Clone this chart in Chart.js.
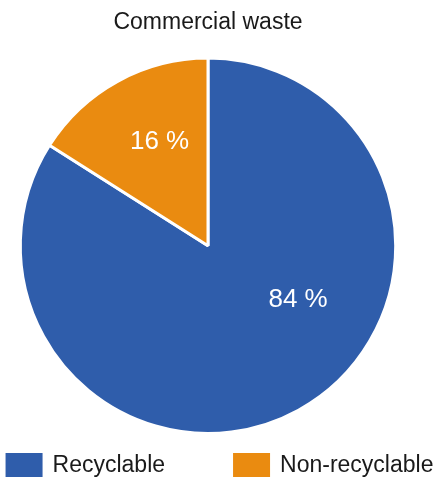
<!DOCTYPE html>
<html>
<head>
<meta charset="utf-8">
<script src="https://cdn.jsdelivr.net/npm/chart.js@4"></script>
<style>
  html, body { margin: 0; padding: 0; background: #fff; }
  #wrap { width: 439px; height: 479px; position: relative; }
</style>
</head>
<body>
<div id="wrap"><canvas id="myChart"></canvas></div>
<script>
const categories = ['Recyclable', 'Non-recyclable']
const shares = [84, 16]
const sliceColors = ['#2f5dab', '#ea8b10']

const FONT = '"Liberation Sans", Arial, sans-serif'

// percentage labels inside the slices (Excel puts the big one a bit off the middle)
const sliceLabels = {
    id: 'sliceLabels',
    afterDatasetsDraw(chart, args, opts) {
        const ctx = chart.ctx
        const meta = chart.getDatasetMeta(0)
        ctx.save()
        ctx.font = '26px ' + FONT
        ctx.fillStyle = '#ffffff'
        ctx.textAlign = 'center'
        ctx.textBaseline = 'middle'
        meta.data.forEach(function(arc, i) {
            const place = opts.place[i]
            let angle = (arc.startAngle + arc.endAngle) / 2
            if (place.angle !== null) {
                angle = place.angle * Math.PI / 180
            }
            const r = arc.outerRadius * place.r
            const x = arc.x + Math.cos(angle) * r
            const y = arc.y + Math.sin(angle) * r
            ctx.fillText(shares[i] + ' %', x, y)
        })
        ctx.restore()
    }
}

// legend drawn by hand so the two entries can sit far apart on one row
const bottomLegend = {
    id: 'bottomLegend',
    afterDraw(chart, args, opts) {
        const ctx = chart.ctx
        ctx.save()
        ctx.font = '23px ' + FONT
        ctx.textBaseline = 'middle'
        ctx.textAlign = 'left'
        const widths = categories.map(function(c) {
            return opts.boxW + opts.boxGap + ctx.measureText(c).width
        })
        const total = widths.reduce(function(a, b) { return a + b }, 0) + opts.itemGap * (categories.length - 1)
        let x = (chart.width - total) / 2
        const y = chart.height - opts.bottom
        categories.forEach(function(c, i) {
            ctx.fillStyle = sliceColors[i]
            ctx.fillRect(x, y - opts.boxH / 2, opts.boxW, opts.boxH)
            ctx.fillStyle = '#1a1a1a'
            ctx.fillText(c, x + opts.boxW + opts.boxGap, y + 1)
            x += widths[i] + opts.itemGap
        })
        ctx.restore()
    }
}

const ctx = document.getElementById('myChart').getContext('2d')

new Chart(ctx, {
    type: 'pie',
    data: {
        labels: categories,
        datasets: [{
            data: shares,
            backgroundColor: sliceColors,
            borderColor: '#ffffff',
            borderWidth: 3,
            hoverOffset: 0
        }]
    },
    options: {
        responsive: true,
        maintainAspectRatio: false,
        animation: false,
        layout: {
            padding: { top: 0, left: 0, right: 23, bottom: 44 }
        },
        plugins: {
            legend: { display: false },
            tooltip: { enabled: false },
            title: {
                display: true,
                text: 'Commercial waste',
                color: '#1a1a1a',
                font: { family: FONT, size: 23, weight: 'normal' },
                padding: { top: 9, bottom: 20 }
            },
            sliceLabels: {
                place: [{ angle: 31, r: 0.56 }, { angle: -115, r: 0.61 }]
            },
            bottomLegend: {
                boxW: 37, boxH: 24, boxGap: 10, itemGap: 68, bottom: 14
            }
        }
    },
    plugins: [sliceLabels, bottomLegend]
})
</script>
</body>
</html>
